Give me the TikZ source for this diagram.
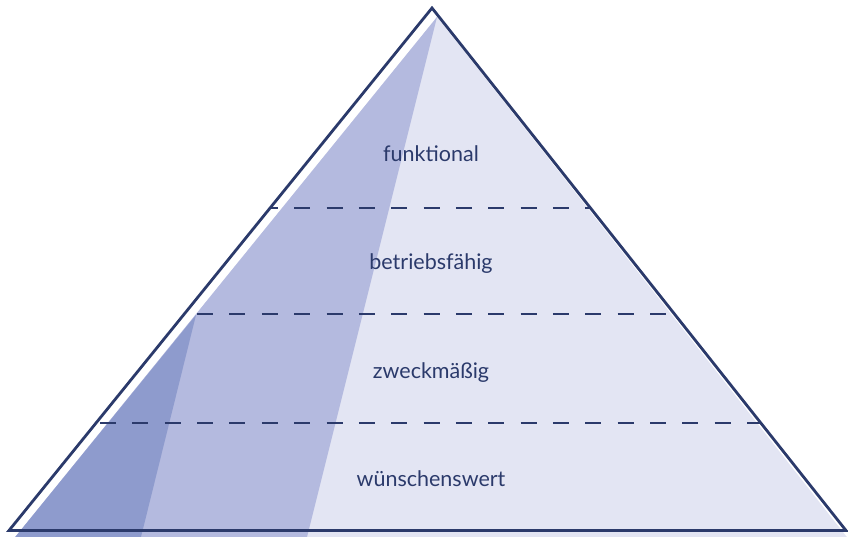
\documentclass[tikz,border=0pt]{standalone}
\usepackage{fontspec}
\setmainfont{Lato}
\definecolor{navy}{HTML}{2B3A6B}
\definecolor{lightfill}{HTML}{E3E5F3}
\definecolor{midfill}{HTML}{B4BADF}
\definecolor{darkfill}{HTML}{8E9BCD}
\tikzset{
  outline/.style={draw=navy, line width=2.8pt, line join=miter},
  dashline/.style={draw=navy, line width=2.8pt, dash pattern=on 16pt off 16.35pt},
  lvl/.style={text=navy, font=\fontsize{21.5}{25}\selectfont, anchor=base, inner sep=0pt}
}
\begin{document}
\begin{tikzpicture}[x=1pt,y=-1pt]
\useasboundingbox (0,0) rectangle (848,536);
\coordinate (apex) at (432,8);
\coordinate (bl) at (9,530.5);
\coordinate (br) at (846,530.5);
\coordinate (fapex) at (437,17);
\coordinate (fbl) at (12,541);
\coordinate (fbr) at (850,541);
\coordinate (mbr) at (306,541);
\coordinate (dtop) at (196,315);
\coordinate (dbr) at (140,541);
\begin{scope}
\clip (0,0) rectangle (848,536);
\fill[lightfill] (fapex) -- (fbl) -- (fbr) -- cycle;
\fill[midfill] (fapex) -- (fbl) -- (mbr) -- cycle;
\fill[darkfill] (dtop) -- (fbl) -- (dbr) -- cycle;
\end{scope}
\begin{scope}
\clip (apex) -- (bl) -- (br) -- cycle;
\coordinate (d1l) at (3,208); \coordinate (d1r) at (848,208);
\coordinate (d2l) at (3,314); \coordinate (d2r) at (848,314);
\coordinate (d3l) at (3,423); \coordinate (d3r) at (848,423);
\draw[dashline] (d1l) -- (d1r);
\draw[dashline] (d2l) -- (d2r);
\draw[dashline] (d3l) -- (d3r);
\end{scope}
\draw[outline] (apex) -- (bl) -- (br) -- cycle;
\node[lvl] (t1) at (431,161) {funktional};
\node[lvl] (t2) at (431,269) {betriebsfähig};
\node[lvl] (t3) at (431,378) {zweckmäßig};
\node[lvl] (t4) at (431,486) {wünschenswert};
\end{tikzpicture}
\end{document}
